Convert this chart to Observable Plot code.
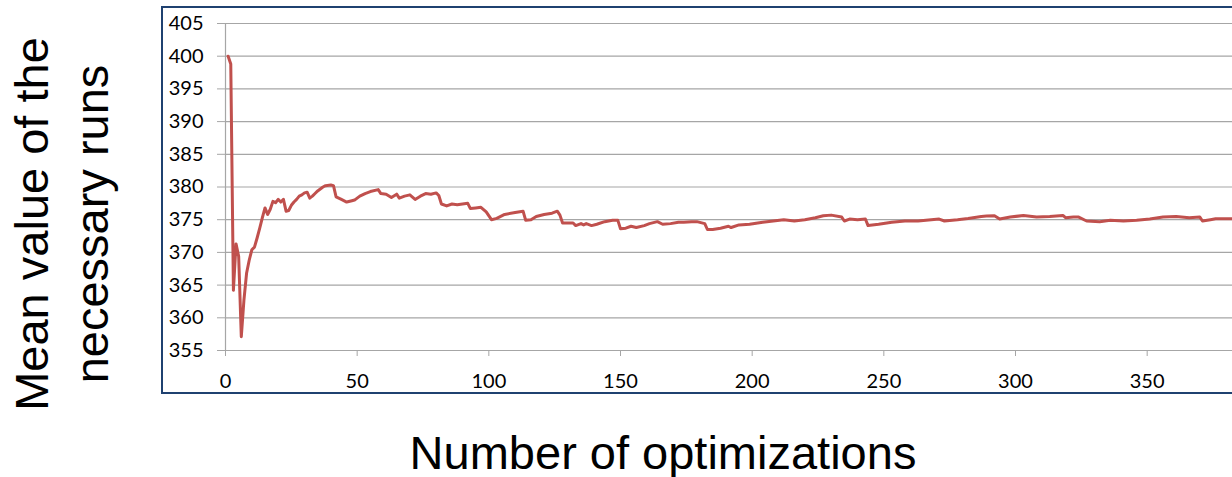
<!DOCTYPE html>
<html>
<head>
<meta charset="utf-8">
<script src="https://cdn.jsdelivr.net/npm/d3@7"></script>
<script src="https://cdn.jsdelivr.net/npm/@observablehq/plot@0.6"></script>
<style>
  html, body { margin: 0; padding: 0; background: #fff; overflow: hidden; }
  body { position: relative; width: 1232px; height: 477px; }
  #frame {
    position: absolute; left: 161px; top: 6px;
    width: 1200px; height: 384px;
    border: 2px solid #1f4170; background: #fff;
  }
  #chart { position: absolute; left: 0; top: 0; }
  .title { position: absolute; font-family: "Liberation Sans", Arial, sans-serif; font-size: 47px; color: #000; white-space: nowrap; }
  #ytitle {
    left: 62px; top: 224px; width: 460px; text-align: center; line-height: 60px;
    transform: translate(-50%, -50%) rotate(-90deg);
  }
  #xtitle { left: 663px; top: 424px; line-height: 57px; transform: translateX(-50%); }
</style>
</head>
<body>
<div id="frame"><div id="chart"></div></div>
<div id="ytitle" class="title">Mean value of the<br>necessary runs</div>
<div id="xtitle" class="title">Number of optimizations</div>
<script>
// Number of optimizations performed so far
const optimizations = [
  1, 2, 3, 4, 5, 6, 7, 8, 9, 10, 11, 12, 13, 14, 15, 16, 17, 18, 19, 20,
  21, 22, 23, 24, 25, 26, 27, 28, 29, 30, 31, 32, 33, 34, 35, 36, 37, 38, 40, 41,
  42, 44, 46, 48, 49, 51, 53, 55, 58, 59, 61, 63, 65, 66, 68, 70, 72, 74, 76, 78,
  80, 81, 82, 84, 86, 88, 90, 92, 93, 95, 97, 99, 101, 103, 106, 110, 113, 114, 116, 118,
  121, 124, 126, 127, 128, 132, 133, 135, 136, 137, 139, 141, 144, 147, 149, 150, 152, 154, 156, 159,
  161, 164, 166, 169, 172, 174, 177, 179, 182, 183, 185, 188, 191, 192, 195, 199, 204, 208, 212, 216,
  220, 224, 227, 230, 234, 235, 237, 240, 243, 244, 248, 253, 258, 263, 268, 271, 273, 278, 282, 287,
  289, 292, 294, 298, 303, 308, 313, 318, 319, 322, 324, 327, 332, 336, 341, 346, 351, 356, 361, 366,
  370, 371, 374, 376, 383
];
// Running mean of the necessary runs
const meanRuns = [
  400.0, 398.8, 364.2, 371.3, 369.4, 357.1, 362.7, 366.8, 368.8, 370.4, 370.8, 372.2, 373.7, 375.3, 376.8, 375.8, 376.6, 377.8, 377.6, 378.1,
  377.7, 378.1, 376.3, 376.4, 377.2, 377.7, 378.1, 378.6, 378.8, 379.1, 379.2, 378.3, 378.6, 379.0, 379.4, 379.7, 380.0, 380.2, 380.3, 380.2,
  378.5, 378.1, 377.7, 377.9, 378.0, 378.6, 379.0, 379.3, 379.6, 379.0, 378.9, 378.4, 378.9, 378.3, 378.6, 378.8, 378.1, 378.6, 379.0, 378.9,
  379.1, 378.7, 377.4, 377.1, 377.4, 377.3, 377.4, 377.5, 376.7, 376.8, 376.9, 376.2, 375.0, 375.2, 375.8, 376.1, 376.3, 374.9, 375.0, 375.5,
  375.8, 376.0, 376.3, 375.7, 374.5, 374.5, 374.1, 374.4, 374.2, 374.4, 374.1, 374.3, 374.7, 374.9, 374.9, 373.6, 373.7, 374.0, 373.8, 374.1,
  374.4, 374.7, 374.3, 374.4, 374.6, 374.6, 374.7, 374.7, 374.4, 373.5, 373.5, 373.7, 374.0, 373.8, 374.2, 374.3, 374.6, 374.8, 375.0, 374.8,
  375.0, 375.3, 375.6, 375.7, 375.4, 374.8, 375.1, 375.0, 375.1, 374.1, 374.3, 374.6, 374.8, 374.8, 375.0, 375.1, 374.8, 375.0, 375.2, 375.5,
  375.55, 375.6, 375.1, 375.4, 375.65, 375.4, 375.5, 375.65, 375.3, 375.4, 375.4, 374.8, 374.7, 374.9, 374.8, 374.9, 375.1, 375.4, 375.5, 375.3,
  375.4, 374.8, 375.0, 375.15, 375.15
];
const yTicks = [355, 360, 365, 370, 375, 380, 385, 390, 395, 400, 405];
const xTicks = [0, 50, 100, 150, 200, 250, 300, 350];

const series = optimizations.map((n, i) => ({n, mean: meanRuns[i]}));
const gridColor = "#a6a6a6";

const chart = Plot.plot({
  width: 1069,
  height: 384,
  marginLeft: 62,
  marginRight: 0,
  marginTop: 15,
  marginBottom: 42,
  x: {domain: [0, 382.4]},
  y: {domain: [355, 405]},
  style: {fontFamily: "Lato, 'Open Sans', sans-serif", fontSize: "20px", background: "#fff", color: "#000", overflow: "visible"},
  marks: [
    Plot.gridY(yTicks, {stroke: gridColor, strokeOpacity: 1, strokeWidth: 1.2}),
    Plot.ruleX([0], {stroke: gridColor, strokeWidth: 1.2}),
    Plot.axisY(yTicks, {tickSize: 8, tickPadding: 14, stroke: gridColor, fill: "#000", label: null}),
    Plot.axisX(xTicks, {tickSize: 6, tickPadding: 17, stroke: gridColor, fill: "#000", label: null}),
    Plot.line(series, {x: "n", y: "mean", stroke: "#c0504d", strokeWidth: 3, strokeLinejoin: "round"})
  ]
});
document.getElementById("chart").appendChild(chart);
</script>
</body>
</html>
